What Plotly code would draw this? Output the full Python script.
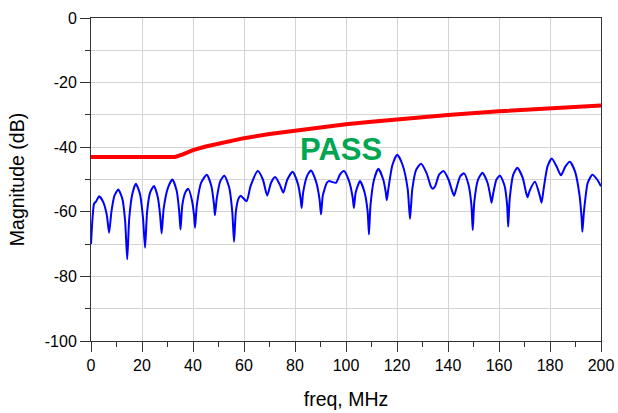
import plotly.graph_objects as go

meas_freq = [0, 0.6, 1.2, 2.0, 3.2, 4.8, 6.2, 7.1, 8.0, 9.2, 10.7, 12.3, 13.4, 14.2, 15.0, 16.2, 17.6,
             19.2, 20.4, 21.2, 22.0, 23.2, 24.7, 26.2, 27.1, 27.7, 28.5, 30.2, 31.9, 33.6, 34.6, 35.1,
             35.8, 37.0, 38.2, 39.6, 40.4, 40.8, 41.5, 43.2, 45.4, 47.2, 48.2, 48.6, 49.3, 50.7, 52.3,
             54.2, 55.4, 56.1, 56.8, 57.8, 58.7, 61.0, 62.6, 65.4, 67.4, 69.1, 70.6, 72.2, 74.0, 75.4,
             77.0, 79.1, 81.2, 82.2, 82.6, 83.2, 84.8, 86.3, 88.2, 89.6, 90.2, 90.9, 92.5, 93.3, 96.1,
             97.6, 99.2, 101.2, 102.6, 103.1, 103.8, 105.5, 107.3, 108.5, 109.0, 109.6, 111.0, 112.7,
             114.6, 115.6, 116.0, 116.6, 118.2, 120.1, 122.2, 124.2, 125.1, 126.0, 127.5, 129.4, 131.6,
             133.2, 134.0, 135.0, 136.5, 138.2, 140.2, 141.6, 142.4, 143.2, 144.8, 146.3, 148.0, 149.2,
             149.7, 150.3, 151.8, 153.5, 155.5, 156.7, 157.1, 157.7, 159.0, 160.4, 162.2, 163.2, 163.6,
             164.2, 165.6, 167.2, 169.3, 170.6, 171.2, 172.0, 174.1, 176.0, 176.7, 177.5, 179.0, 180.7,
             182.6, 184.3, 186.0, 187.8, 189.8, 191.6, 192.4, 192.7, 193.3, 194.8, 196.6, 198.5, 200]
meas_db = [-70, -62, -57.5, -56.8, -55.2, -57, -61, -66.5, -60, -55, -53.1, -56, -63, -74.7, -62, -54.5, -51.3,
           -54.5, -62, -71.1, -60, -54, -52, -55.5, -61, -66.7, -59, -52.5, -50, -53.5, -60, -65.5,
           -58, -54, -52.9, -56.5, -61, -64.9, -58, -51, -48.5, -52, -57.5, -61.1, -56, -50.5, -48.8,
           -52.5, -60, -69.3, -60, -56, -55, -56.7, -52, -47.4, -50, -55, -51, -49.2, -51.5, -54.1,
           -50, -47.6, -51.5, -56, -58.8, -54, -48.8, -47.2, -50.5, -56, -60.8, -55, -51, -50.5, -51,
           -48.5, -47.4, -50.5, -55.5, -58.8, -54, -50.5, -54, -60, -67, -58, -50, -46.7,
           -50, -54, -56.4, -53, -45.5, -42.3, -45.5, -53, -62.2, -53, -47, -45.1, -48,
           -52, -52.9, -52, -48.5, -47.4, -50, -53.5, -55, -53, -49, -48.1, -51.5, -58,
           -65.7, -57, -50, -47.9, -51, -55.5, -57.2, -54.5, -50, -48.8, -52, -58, -64.6,
           -56, -48.5, -46.4, -49.5, -54, -55.5, -53.5, -50.7, -55, -57.2, -53, -46, -43.5,
           -46, -48.7, -46, -44.5, -47.5, -55, -62, -66.2, -60, -51, -48.5, -50, -52.1]

# Red limit mask
mask_freq = [0, 33, 36, 40, 45, 50, 60, 70, 80, 90, 100, 110, 120, 140, 160, 180, 200]
mask_db = [-43, -43, -42.2, -40.9, -39.8, -38.9, -37.2, -35.9, -34.8, -33.8, -32.9, -32.1, -31.3,
           -30.0, -28.9, -27.9, -27.1]

# Tick labels
x_ticks = [0, 20, 40, 60, 80, 100, 120, 140, 160, 180, 200]
y_ticks = [0, -20, -40, -60, -80, -100]
y_tick_text = ["0", "-20", "-40", "-60", "-80", "-100"]

fig = go.Figure()
fig.add_trace(go.Scatter(x=mask_freq, y=mask_db, mode="lines",
                         line=dict(color="#ff0000", width=4), showlegend=False))
fig.add_trace(go.Scatter(x=meas_freq, y=meas_db, mode="lines",
                         line=dict(color="#0000ff", width=2, shape="spline", smoothing=0.6),
                         showlegend=False))

fig.add_annotation(x=98, y=-40.7, text="<b>PASS</b>", showarrow=False,
                   font=dict(family="Liberation Sans, Arial", size=31, color="#00a651"))

axis_font = dict(family="Liberation Sans, Arial", size=16, color="#000")
title_font = dict(family="Liberation Sans, Arial", size=19.5, color="#000")
fig.update_layout(
    width=618, height=413,
    margin=dict(l=91, r=17, t=18, b=72),
    paper_bgcolor="white", plot_bgcolor="white",
    font=dict(family="Liberation Sans, Arial", size=16, color="#000"),
    xaxis=dict(range=[0, 200], tickvals=x_ticks, ticktext=[str(v) for v in x_ticks],
               ticks="outside", ticklen=10, tickcolor="#333", automargin=False,
               showline=True, linecolor="#333", linewidth=1, mirror=True,
               showgrid=True, gridcolor="#d4d4d4", gridwidth=1, zeroline=False,
               tickfont=axis_font,
               minor=dict(dtick=10, tick0=0, ticks="outside", ticklen=5, tickcolor="#333", showgrid=False),
               title=dict(text="freq, MHz", font=title_font, standoff=19)),
    yaxis=dict(range=[-100, 0], tickvals=y_ticks, ticktext=y_tick_text,
               ticks="outside", ticklen=10, tickcolor="#333", automargin=False,
               showline=True, linecolor="#333", linewidth=1, mirror=True,
               showgrid=True, gridcolor="#d4d4d4", gridwidth=1, zeroline=False,
               tickfont=axis_font,
               minor=dict(dtick=10, tick0=0, ticks="outside", ticklen=5, tickcolor="#333",
                          showgrid=True, gridcolor="#d4d4d4", gridwidth=1),
               title=dict(text="Magnitude (dB)", font=title_font, standoff=14)),
)

fig.write_html("out.html")
